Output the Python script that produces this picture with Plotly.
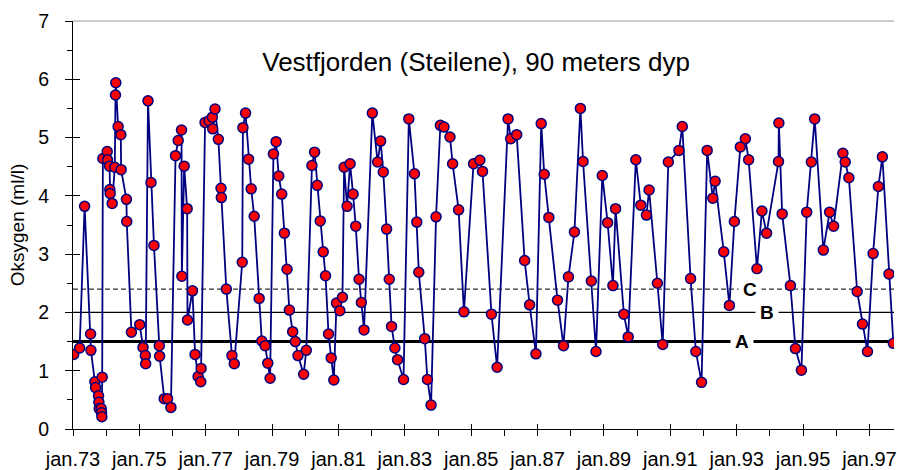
"""Oksygen ved 90 meters dyp i Vestfjorden (Steilene), 1973-1997."""

import plotly.graph_objects as go

# Prøvetidspunkt (desimalår) og oksygen (ml/l)
years = [
    1973.02, 1973.20, 1973.35, 1973.53, 1973.54, 1973.66, 1973.68, 1973.77, 1973.78, 1973.79,
    1973.85, 1973.86, 1973.87, 1973.88, 1973.90, 1974.03, 1974.04, 1974.10, 1974.11, 1974.12,
    1974.18, 1974.26, 1974.28, 1974.29, 1974.36, 1974.44, 1974.45, 1974.61, 1974.62, 1974.76,
    1975.01, 1975.11, 1975.18, 1975.19, 1975.26, 1975.35, 1975.44, 1975.60, 1975.61, 1975.75,
    1975.85, 1975.95, 1976.09, 1976.17, 1976.27, 1976.28, 1976.35, 1976.44, 1976.45, 1976.60,
    1976.68, 1976.77, 1976.85, 1976.86, 1976.98, 1977.10, 1977.20, 1977.21, 1977.28, 1977.38,
    1977.46, 1977.47, 1977.62, 1977.79, 1977.86, 1978.10, 1978.12, 1978.20, 1978.29, 1978.37,
    1978.46, 1978.61, 1978.69, 1978.79, 1978.87, 1978.94, 1979.04, 1979.12, 1979.20, 1979.29,
    1979.37, 1979.45, 1979.52, 1979.62, 1979.70, 1979.78, 1979.95, 1980.03, 1980.20, 1980.28,
    1980.36, 1980.45, 1980.54, 1980.61, 1980.70, 1980.78, 1980.86, 1980.94, 1981.04, 1981.12,
    1981.17, 1981.26, 1981.35, 1981.44, 1981.52, 1981.62, 1981.69, 1981.77, 1982.02, 1982.18,
    1982.27, 1982.35, 1982.45, 1982.53, 1982.60, 1982.70, 1982.78, 1982.96, 1983.12, 1983.29,
    1983.36, 1983.42, 1983.60, 1983.68, 1983.79, 1983.94, 1984.07, 1984.18, 1984.36, 1984.44,
    1984.62, 1984.78, 1985.07, 1985.26, 1985.34, 1985.61, 1985.78, 1986.11, 1986.19, 1986.37,
    1986.61, 1986.76, 1986.95, 1987.11, 1987.20, 1987.34, 1987.60, 1987.78, 1987.93, 1988.11,
    1988.29, 1988.37, 1988.62, 1988.76, 1988.95, 1989.11, 1989.27, 1989.35, 1989.60, 1989.73,
    1989.96, 1990.11, 1990.28, 1990.36, 1990.61, 1990.77, 1990.94, 1991.26, 1991.36, 1991.61,
    1991.77, 1991.94, 1992.11, 1992.28, 1992.35, 1992.61, 1992.78, 1992.93, 1993.11, 1993.26,
    1993.36, 1993.61, 1993.76, 1993.90, 1994.26, 1994.27, 1994.37, 1994.62, 1994.77, 1994.95,
    1995.11, 1995.25, 1995.35, 1995.61, 1995.80, 1995.92, 1996.20, 1996.27, 1996.38, 1996.63,
    1996.79, 1996.94, 1997.11, 1997.27, 1997.39, 1997.59, 1997.72,
]
oxygen = [
    1.28, 1.39, 3.82, 1.63, 1.35, 0.81, 0.71, 0.57, 0.46, 0.35,
    0.35, 0.28, 0.21, 0.89, 4.64, 4.76, 4.62, 4.51, 4.11, 4.04,
    3.87, 4.49, 5.73, 5.94, 5.19, 5.05, 4.45, 3.94, 3.56, 1.66,
    1.79, 1.40, 1.26, 1.12, 5.63, 4.23, 3.15, 1.43, 1.25, 0.52,
    0.52, 0.37, 4.69, 4.95, 5.13, 2.62, 4.51, 3.78, 1.87, 2.37,
    1.28, 0.90, 0.81, 1.04, 5.26, 5.29, 5.35, 5.15, 5.49, 4.97,
    4.13, 3.97, 2.40, 1.26, 1.12, 2.86, 5.17, 5.42, 4.63, 4.12,
    3.65, 2.24, 1.51, 1.43, 1.13, 0.87, 4.72, 4.93, 4.34, 4.03,
    3.36, 2.74, 2.04, 1.67, 1.50, 1.26, 0.94, 1.35, 4.52, 4.75,
    4.18, 3.57, 3.04, 2.63, 1.63, 1.22, 0.84, 2.16, 2.03, 2.26,
    4.49, 3.82, 4.55, 4.03, 3.48, 2.57, 2.17, 1.70, 5.42, 4.58,
    4.94, 4.41, 3.43, 2.57, 1.76, 1.39, 1.19, 0.85, 5.32, 4.38,
    3.55, 2.69, 1.55, 0.85, 0.41, 3.64, 5.21, 5.18, 5.01, 4.55,
    3.76, 2.01, 4.55, 4.61, 4.42, 1.97, 1.06, 5.32, 4.98, 5.05,
    2.89, 2.13, 1.29, 5.24, 4.37, 3.63, 2.21, 1.43, 2.61, 3.38,
    5.50, 4.59, 2.54, 1.33, 4.35, 3.54, 2.46, 3.78, 1.97, 1.58,
    4.62, 3.84, 3.67, 4.10, 2.50, 1.45, 4.58, 4.78, 5.19, 2.58,
    1.33, 0.80, 4.78, 3.96, 4.25, 3.04, 2.12, 3.56, 4.84, 4.98,
    4.62, 2.75, 3.74, 3.36, 4.59, 5.25, 3.69, 2.46, 1.38, 1.01,
    3.72, 4.58, 5.32, 3.07, 3.72, 3.48, 4.73, 4.58, 4.31, 2.36,
    1.80, 1.33, 3.01, 4.16, 4.67, 2.66, 1.47,
]

# Grenseverdier A, B, C (ml/l)
limit_names = ["A", "B", "C"]
limit_values = [1.5, 2.0, 2.4]

label_years = list(range(1973, 1998, 2))
label_text = [f"jan.{y % 100:02d}" for y in label_years]
minor_years = list(range(1974, 1998, 2))

FONT = "Liberation Sans, Arial, sans-serif"
NAVY = "#000080"

fig = go.Figure()
fig.add_trace(
    go.Scatter(
        x=years,
        y=oxygen,
        mode="lines+markers",
        line={"color": NAVY, "width": 1.8},
        marker={"color": "#ff0000", "size": 10, "line": {"color": NAVY, "width": 1.5}},
        hoverinfo="x+y",
    )
)
# tom trace so the overlay axes (inside half of the crossing ticks) get drawn
fig.add_trace(go.Scatter(x=[], y=[], xaxis="x2", yaxis="y2", hoverinfo="skip"))

# limit lines
line_styles = {
    "A": {"color": "black", "width": 3},
    "B": {"color": "black", "width": 1.3},
    "C": {"color": "#333333", "width": 1.3, "dash": "5px,3px"},
}
label_pos = {"A": 1993.16, "B": 1993.91, "C": 1993.40}
for name, value in zip(limit_names, limit_values):
    fig.add_hline(y=value, line=line_styles[name], layer="below")
    fig.add_annotation(
        x=label_pos[name],
        y=value,
        text=f"<b>{name}</b>",
        showarrow=False,
        bgcolor="white",
        borderpad=4,
        font={"family": FONT, "size": 19, "color": "black"},
    )

# grey top border of the plot area
fig.add_shape(
    type="line", xref="paper", yref="paper", x0=0, x1=1, y0=1, y1=1,
    line={"color": "#999999", "width": 1},
)

x_range = [1973, 1997.74]
tick_font = {"family": FONT, "size": 20, "color": "black"}

fig.update_layout(
    width=897,
    height=470,
    margin={"l": 73, "r": 0, "t": 21, "b": 39},
    paper_bgcolor="white",
    plot_bgcolor="white",
    showlegend=False,
    font={"family": FONT, "color": "black"},
    title={
        "text": "Vestfjorden (Steilene), 90 meters dyp",
        "font": {"family": FONT, "size": 26, "color": "black"},
        "xref": "paper",
        "yref": "paper",
        "x": 0.491,
        "y": 0.90,
        "xanchor": "center",
        "yanchor": "middle",
    },
    xaxis={
        "range": x_range,
        "tickvals": label_years,
        "ticktext": label_text,
        "ticks": "outside",
        "ticklen": 6,
        "tickcolor": "black",
        "minor": {"tickvals": minor_years, "ticks": "outside", "ticklen": 6, "tickcolor": "black"},
        "showline": True,
        "linecolor": "black",
        "linewidth": 1,
        "showgrid": False,
        "zeroline": False,
        "tickfont": tick_font,
        "ticklabelstandoff": 6,
        "ticklabeloverflow": "allow",
    },
    xaxis2={
        "range": x_range,
        "overlaying": "x",
        "anchor": "y",
        "tickvals": label_years,
        "ticks": "inside",
        "ticklen": 5,
        "tickcolor": "black",
        "showticklabels": False,
        "showline": False,
        "showgrid": False,
        "zeroline": False,
    },
    yaxis={
        "range": [0, 7],
        "dtick": 1,
        "ticks": "outside",
        "ticklen": 7,
        "tickcolor": "black",
        "minor": {"dtick": 0.5, "ticks": "outside", "ticklen": 5, "tickcolor": "black"},
        "showline": True,
        "linecolor": "black",
        "linewidth": 1,
        "showgrid": False,
        "zeroline": False,
        "tickfont": {"family": FONT, "size": 19.5, "color": "black"},
        "ticklabelstandoff": 12,
        "title": {"text": "Oksygen (ml/l)", "font": {"family": FONT, "size": 19}, "standoff": 8},
    },
    yaxis2={
        "range": [0, 7],
        "overlaying": "y",
        "anchor": "x",
        "side": "left",
        "dtick": 1,
        "ticks": "inside",
        "ticklen": 7,
        "tickcolor": "black",
        "showticklabels": False,
        "showline": False,
        "showgrid": False,
        "zeroline": False,
    },
)

# the browser's default 8px body margin would push the figure out of the window
fig.write_html(
    "out.html",
    config={"displayModeBar": False},
    post_script="document.body.style.margin = '0';",
)
